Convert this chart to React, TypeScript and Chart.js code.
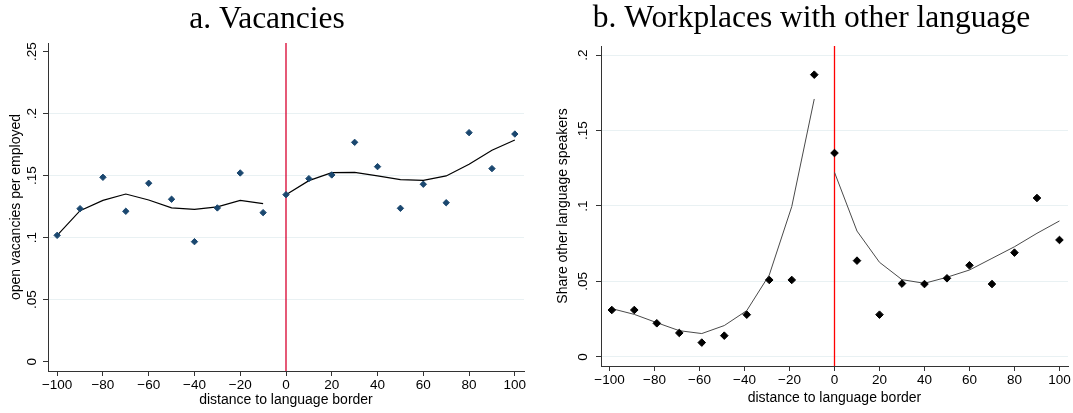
import React, { useEffect, useRef } from 'react';
import { Chart, registerables } from 'chart.js';

Chart.register(...registerables);

// ---------- Data ----------
const X_TICKS = [-100, -80, -60, -40, -20, 0, 20, 40, 60, 80, 100];
const BORDER_X = 0;

// Panel a: Vacancies
const VAC_X = [-100, -90, -80, -70, -60, -50, -40, -30, -20, -10, 0, 10, 20, 30, 40, 50, 60, 70, 80, 90, 100];
const VAC_POINTS = [0.1019, 0.1234, 0.1487, 0.1213, 0.1439, 0.131, 0.0968, 0.124, 0.1522, 0.1202, 0.1347, 0.1476, 0.1506, 0.1769, 0.1573, 0.1237, 0.1431, 0.1282, 0.1847, 0.1557, 0.1836];
const VAC_FIT_LEFT_X = [-100, -90, -80, -70, -60, -50, -40, -30, -20, -10];
const VAC_FIT_LEFT = [0.1019, 0.1218, 0.1301, 0.1352, 0.1304, 0.124, 0.1229, 0.1248, 0.1301, 0.1274];
const VAC_FIT_RIGHT_X = [0, 10, 20, 30, 40, 50, 60, 70, 80, 90, 100];
const VAC_FIT_RIGHT = [0.1347, 0.146, 0.1524, 0.1527, 0.1498, 0.1468, 0.1462, 0.1498, 0.1592, 0.1705, 0.1788];
const VAC_Y_TICKS = [0, 0.05, 0.1, 0.15, 0.2, 0.25];

// Panel b: Workplaces with other language
const LANG_X = [-99, -89, -79, -69, -59, -49, -39, -29, -19, -9, 0, 10, 20, 30, 40, 50, 60, 70, 80, 90, 100];
const LANG_POINTS = [0.0311, 0.0311, 0.0223, 0.0159, 0.0095, 0.0141, 0.028, 0.051, 0.051, 0.187, 0.1351, 0.0638, 0.028, 0.0486, 0.0483, 0.0521, 0.0607, 0.0483, 0.0691, 0.1053, 0.0775];
const LANG_FIT_LEFT_X = [-99, -89, -79, -69, -59, -49, -39, -29, -19, -9];
const LANG_FIT_LEFT = [0.032, 0.0282, 0.0227, 0.0174, 0.0155, 0.0208, 0.0307, 0.0543, 0.0996, 0.1709];
const LANG_FIT_RIGHT_X = [0, 10, 20, 30, 40, 50, 60, 70, 80, 90, 100];
const LANG_FIT_RIGHT = [0.1223, 0.0834, 0.0627, 0.0512, 0.0488, 0.0528, 0.0576, 0.0653, 0.073, 0.0819, 0.0901];
const LANG_Y_TICKS = [0, 0.05, 0.1, 0.15, 0.2];

// ---------- Helpers ----------
const zip = (xs: number[], ys: number[]) => xs.map((x, i) => ({ x, y: ys[i] }));
const fmtY = (v: number) => (v === 0 ? '0' : String(+v.toFixed(2)).replace(/^0\./, '.'));
const fmtX = (v: number) => (v < 0 ? '\u2212' + Math.abs(v) : String(v));

const SANS = 'Liberation Sans';
const GRID = '#e9f1f3';
const AXIS = '#333333';

type PanelCfg = {
  width: number;
  title: string;
  titleX: number;
  titleY: number;
  padding: { top: number; left: number; right: number; bottom: number };
  yWidth: number;
  xHeight: number;
  xMin: number;
  xMax: number;
  yMin: number;
  yMax: number;
  yTicks: number[];
  yGridSkip: number[];
  yTitle: string;
  yTitlePad: number;
  yTickPad: number;
  xTitlePad: number;
  vlineColor: string;
  pointsX: number[];
  points: number[];
  pointColor: string;
  pointRadius: number;
  fitLX: number[];
  fitL: number[];
  fitRX: number[];
  fitR: number[];
  fitColor: string;
  fitWidth: number;
};

function buildConfig(c: PanelCfg): any {
  const vline = {
    id: 'vline',
    beforeDatasetsDraw(chart: any) {
      const { ctx, chartArea, scales } = chart;
      const px = scales.x.getPixelForValue(BORDER_X);
      ctx.save();
      ctx.strokeStyle = c.vlineColor;
      ctx.lineWidth = 1.3;
      ctx.beginPath();
      ctx.moveTo(px, chartArea.top);
      ctx.lineTo(px, chartArea.bottom);
      ctx.stroke();
      ctx.restore();
    },
  };
  const titlePlugin = {
    id: 'panelTitle',
    afterDraw(chart: any) {
      const { ctx } = chart;
      ctx.save();
      ctx.font = '31.5px "Liberation Serif"';
      ctx.fillStyle = '#000';
      ctx.textAlign = 'center';
      ctx.textBaseline = 'alphabetic';
      ctx.fillText(c.title, c.titleX, c.titleY);
      ctx.restore();
    },
  };
  const lineDs = (xs: number[], ys: number[]) => ({
    type: 'line',
    data: zip(xs, ys),
    showLine: true,
    borderColor: c.fitColor,
    borderWidth: c.fitWidth,
    pointRadius: 0,
    fill: false,
    tension: 0,
  });
  return {
    type: 'scatter',
    data: {
      datasets: [
        {
          data: zip(c.pointsX, c.points),
          pointStyle: 'rectRot',
          pointRadius: c.pointRadius,
          backgroundColor: c.pointColor,
          borderColor: c.pointColor,
          borderWidth: 1,
          showLine: false,
        },
        lineDs(c.fitLX, c.fitL),
        lineDs(c.fitRX, c.fitR),
      ],
    },
    options: {
      animation: false,
      responsive: false,
      devicePixelRatio: 1,
      layout: { padding: c.padding },
      plugins: { legend: { display: false }, tooltip: { enabled: false }, title: { display: false } },
      scales: {
        x: {
          type: 'linear',
          min: c.xMin,
          max: c.xMax,
          afterBuildTicks: (s: any) => {
            s.ticks = X_TICKS.map((v) => ({ value: v }));
          },
          afterFit: (s: any) => {
            s.height = c.xHeight;
          },
          ticks: {
            autoSkip: false,
            maxRotation: 0,
            minRotation: 0,
            padding: 1,
            color: '#000',
            font: { family: SANS, size: 13.5 },
            callback: (v: number) => fmtX(v),
          },
          grid: { display: true, drawOnChartArea: false, drawTicks: true, tickLength: 5, tickColor: AXIS, tickWidth: 1 },
          border: { display: true, color: AXIS, width: 1 },
          title: {
            display: true,
            text: 'distance to language border',
            color: '#000',
            font: { family: SANS, size: 14 },
            padding: { top: 0, bottom: c.xTitlePad },
          },
        },
        y: {
          type: 'linear',
          min: c.yMin,
          max: c.yMax,
          afterBuildTicks: (s: any) => {
            s.ticks = c.yTicks.map((v) => ({ value: v }));
          },
          afterFit: (s: any) => {
            s.width = c.yWidth;
          },
          ticks: {
            minRotation: 90,
            maxRotation: 90,
            crossAlign: 'center',
            padding: c.yTickPad,
            color: '#000',
            font: { family: SANS, size: 13.5 },
            callback: (v: number) => fmtY(v),
          },
          grid: {
            display: true,
            drawOnChartArea: true,
            drawTicks: true,
            tickLength: 5,
            tickColor: AXIS,
            tickWidth: 1,
            lineWidth: 1,
            color: (ctx: any) =>
              ctx.tick && c.yGridSkip.some((g) => Math.abs(g - ctx.tick.value) < 1e-9) ? 'rgba(0,0,0,0)' : GRID,
          },
          border: { display: true, color: AXIS, width: 1 },
          title: {
            display: true,
            text: c.yTitle,
            color: '#000',
            font: { family: SANS, size: 14 },
            padding: { top: c.yTitlePad, bottom: 0 },
          },
        },
      },
    },
    plugins: [vline, titlePlugin],
  };
}

const PANEL_A: PanelCfg = {
  width: 536,
  title: 'a. Vacancies',
  titleX: 267,
  titleY: 27.5,
  padding: { top: 43, left: 0, right: 12, bottom: 0 },
  yWidth: 48,
  xHeight: 42,
  xMin: -104,
  xMax: 104,
  yMin: -0.0075,
  yMax: 0.257,
  yTicks: VAC_Y_TICKS,
  yGridSkip: [0, 0.25],
  yTitle: 'open vacancies per employed',
  yTitlePad: 8,
  yTickPad: 1,
  xTitlePad: 4.6,
  vlineColor: '#d8002e',
  pointsX: VAC_X,
  points: VAC_POINTS,
  pointColor: '#1a476f',
  pointRadius: 3.2,
  fitLX: VAC_FIT_LEFT_X,
  fitL: VAC_FIT_LEFT,
  fitRX: VAC_FIT_RIGHT_X,
  fitR: VAC_FIT_RIGHT,
  fitColor: '#000000',
  fitWidth: 1.2,
};

const PANEL_B: PanelCfg = {
  width: 537,
  title: 'b. Workplaces with other language',
  titleX: 275.5,
  titleY: 27,
  padding: { top: 46, left: 0, right: 5, bottom: 0 },
  yWidth: 65,
  xHeight: 47,
  xMin: -103.8,
  xMax: 103.8,
  yMin: -0.006,
  yMax: 0.206,
  yTicks: LANG_Y_TICKS,
  yGridSkip: [],
  yTitle: 'Share other language speakers',
  yTitlePad: 18.5,
  yTickPad: 3,
  xTitlePad: 6.6,
  vlineColor: '#ff0000',
  pointsX: LANG_X,
  points: LANG_POINTS,
  pointColor: '#000000',
  pointRadius: 3.8,
  fitLX: LANG_FIT_LEFT_X,
  fitL: LANG_FIT_LEFT,
  fitRX: LANG_FIT_RIGHT_X,
  fitR: LANG_FIT_RIGHT,
  fitColor: '#4a4a4a',
  fitWidth: 1,
};

function Panel({ cfg, left }: { cfg: PanelCfg; left: number }) {
  const ref = useRef<HTMLCanvasElement | null>(null);
  useEffect(() => {
    if (!ref.current) return;
    const chart = new Chart(ref.current, buildConfig(cfg));
    return () => chart.destroy();
  }, [cfg]);
  return (
    <div style={{ position: 'absolute', left, top: 0, width: cfg.width, height: 413 }}>
      <canvas ref={ref} width={cfg.width} height={413} style={{ display: 'block', width: cfg.width, height: 413 }} />
    </div>
  );
}

export default function App() {
  return (
    <div style={{ position: 'absolute', left: 0, top: 0, width: 1073, height: 413, background: '#fff' }}>
      <Panel cfg={PANEL_A} left={0} />
      <Panel cfg={PANEL_B} left={536} />
    </div>
  );
}
